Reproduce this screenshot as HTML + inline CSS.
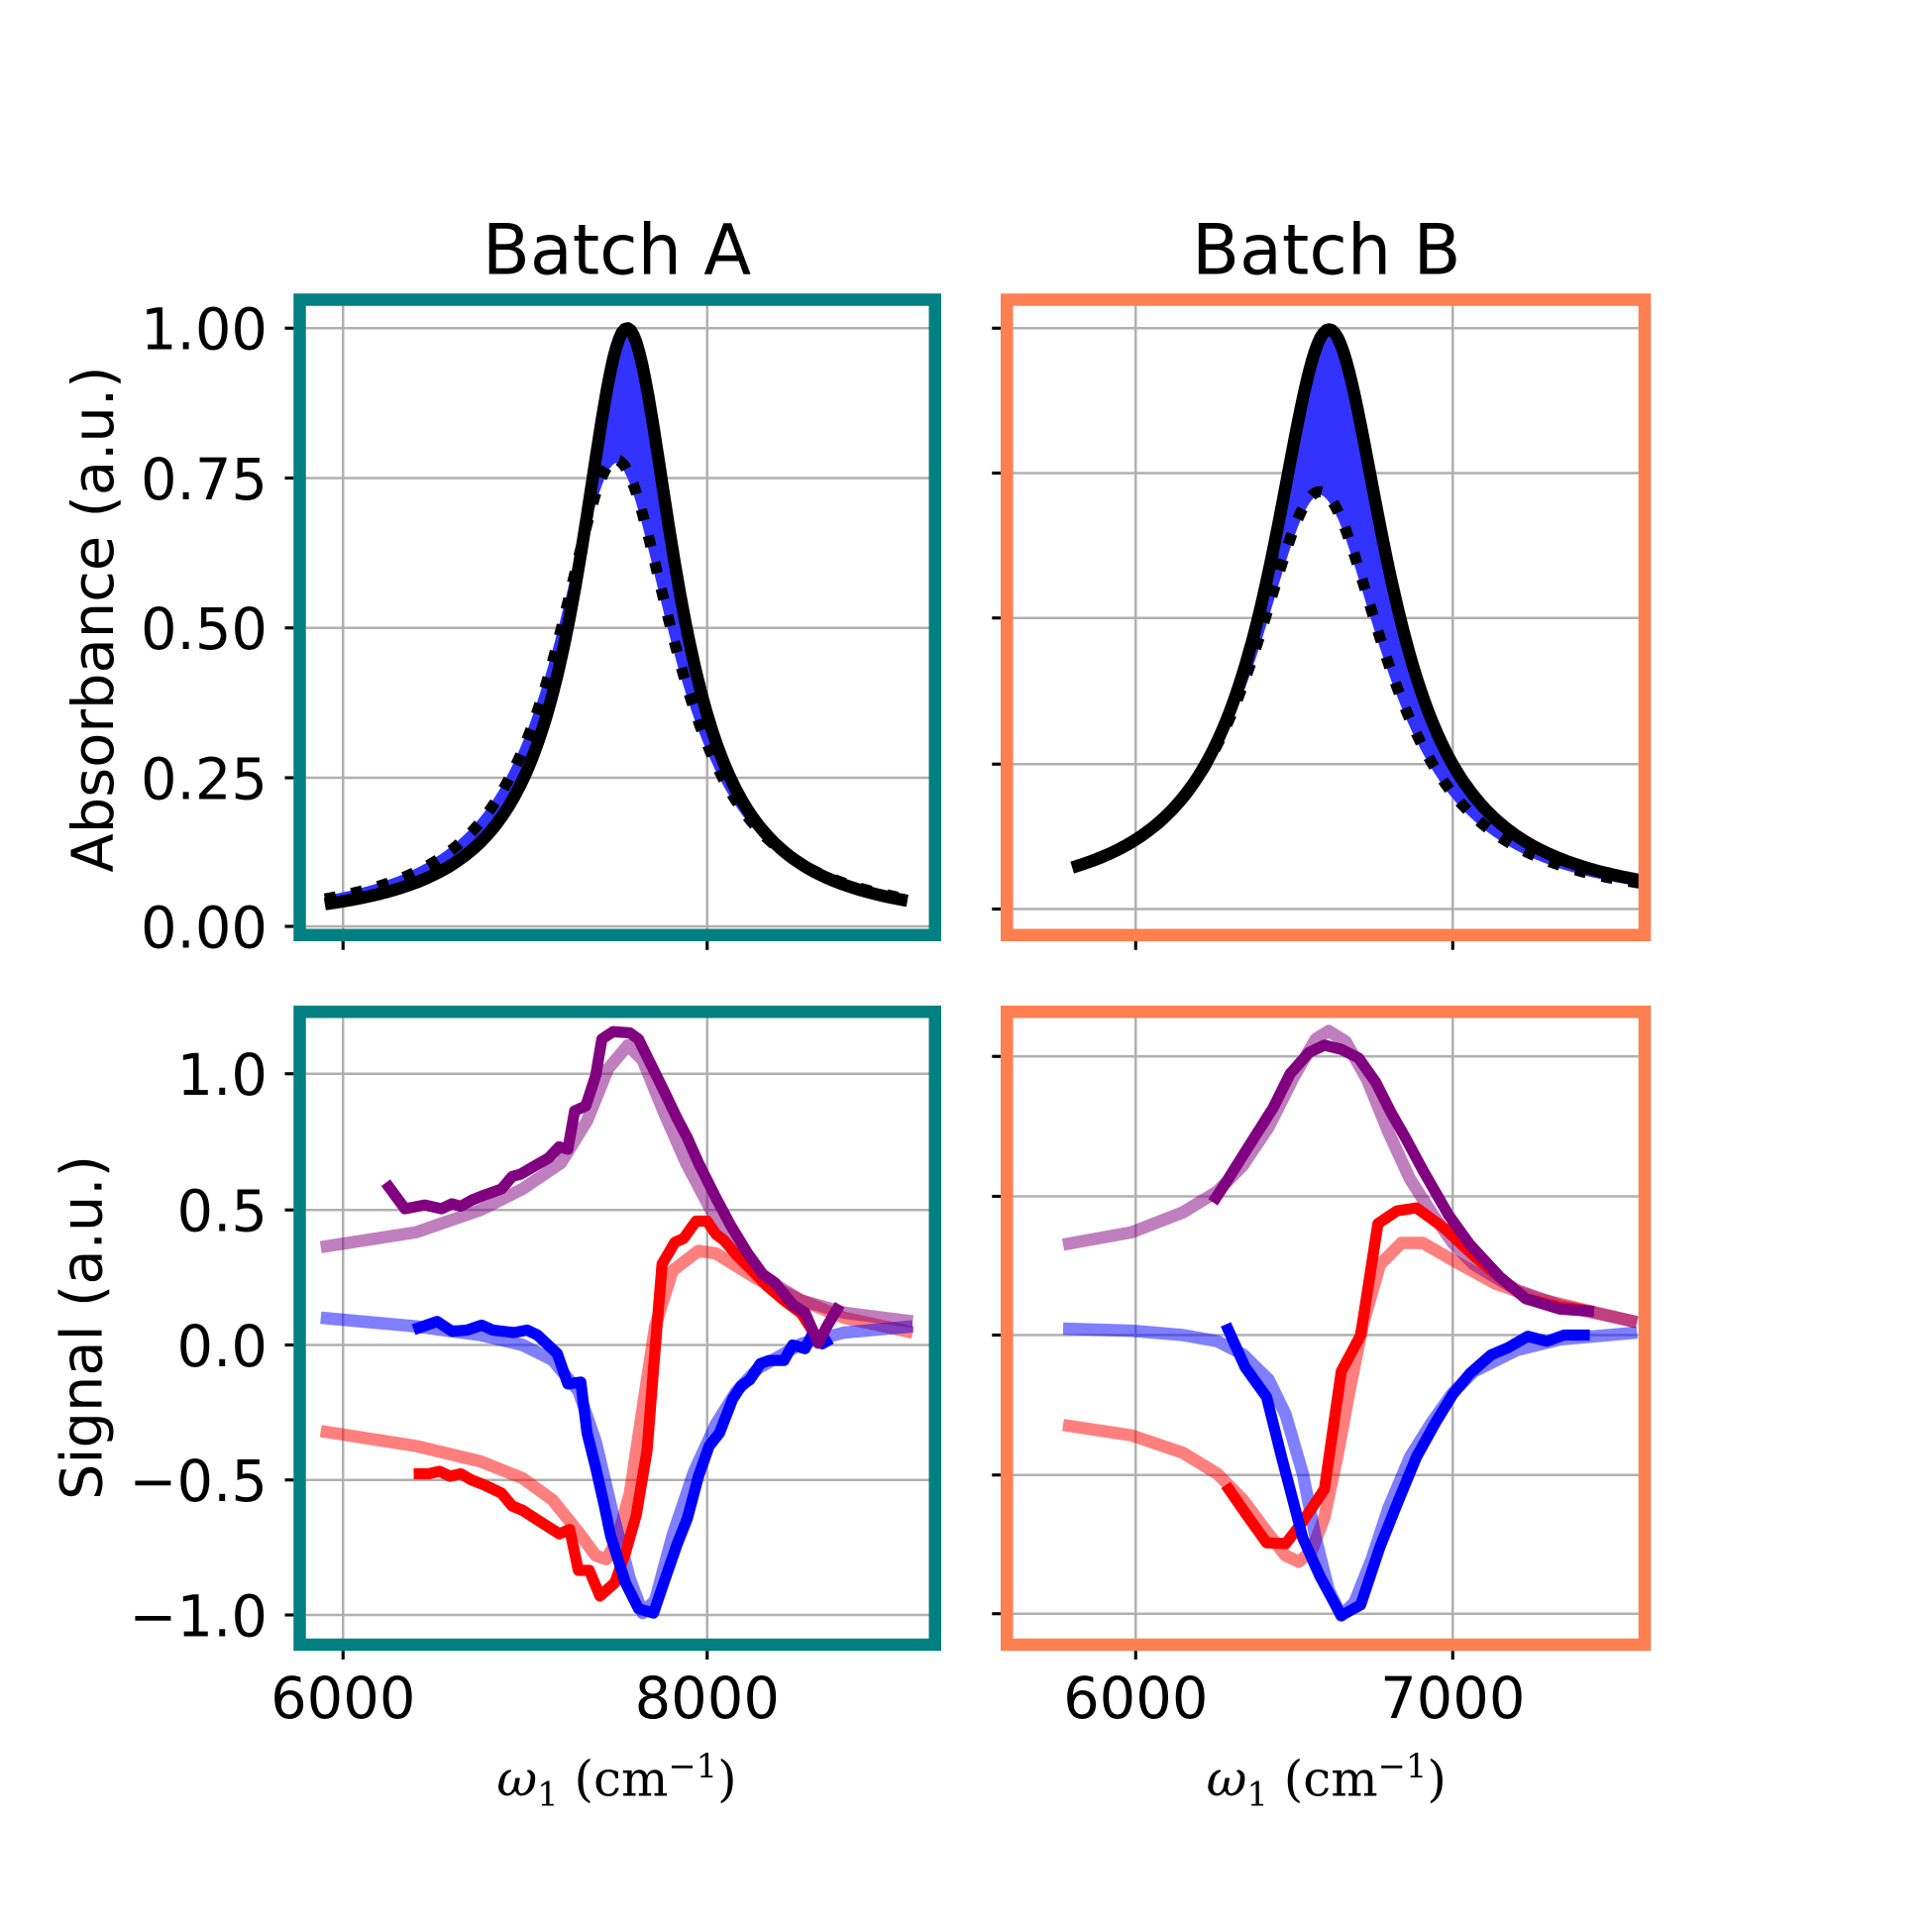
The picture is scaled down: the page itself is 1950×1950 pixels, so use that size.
<!DOCTYPE html>
<html><head><meta charset="utf-8"><style>
html,body{margin:0;padding:0;background:#fff;}
svg{display:block;}
text{font-family:"DejaVu Sans","Liberation Sans",sans-serif;fill:#000;}
text.m{font-family:"DejaVu Serif","Liberation Serif",serif;}
</style></head><body>
<svg id="s" width="1950" height="1950" viewBox="0 0 1560 1560" xmlns="http://www.w3.org/2000/svg">
<rect width="1560" height="1560" fill="#fff"/>
<g stroke="#b0b0b0" stroke-width="2" fill="none">
<line x1="277" y1="247" x2="277" y2="750"/><line x1="571" y1="247" x2="571" y2="750"/>
<line x1="247" y1="265" x2="750" y2="265"/><line x1="247" y1="386" x2="750" y2="386"/><line x1="247" y1="507" x2="750" y2="507"/><line x1="247" y1="628" x2="750" y2="628"/><line x1="247" y1="748" x2="750" y2="748"/>
<line x1="917" y1="247" x2="917" y2="750"/><line x1="1173" y1="247" x2="1173" y2="750"/>
<line x1="818" y1="265" x2="1323" y2="265"/><line x1="818" y1="382" x2="1323" y2="382"/><line x1="818" y1="499" x2="1323" y2="499"/><line x1="818" y1="617" x2="1323" y2="617"/><line x1="818" y1="734" x2="1323" y2="734"/>
<line x1="277" y1="822" x2="277" y2="1323"/><line x1="571" y1="822" x2="571" y2="1323"/>
<line x1="247" y1="867" x2="750" y2="867"/><line x1="247" y1="977" x2="750" y2="977"/><line x1="247" y1="1086" x2="750" y2="1086"/><line x1="247" y1="1195" x2="750" y2="1195"/><line x1="247" y1="1304" x2="750" y2="1304"/>
<line x1="917" y1="822" x2="917" y2="1323"/><line x1="1173" y1="822" x2="1173" y2="1323"/>
<line x1="818" y1="853" x2="1323" y2="853"/><line x1="818" y1="966" x2="1323" y2="966"/><line x1="818" y1="1078" x2="1323" y2="1078"/><line x1="818" y1="1191" x2="1323" y2="1191"/><line x1="818" y1="1303" x2="1323" y2="1303"/>
</g>
<g id="top"></g>
<g fill="none" stroke-linejoin="round" stroke-linecap="butt">
<polyline stroke="#ff0000" stroke-opacity="0.5" stroke-width="10" points="259,1155.5 336,1167.6 388,1180 422,1193.6 446,1211 467,1237 481,1256 489.6,1259 498,1244 508.6,1205.7 519,1136.5 529,1071 543,1026 564,1010 578,1012 612,1033 647,1050 681.5,1064 737,1076"/>
<polyline stroke="#0000ff" stroke-opacity="0.5" stroke-width="10" points="259,1064 336,1071 388,1078 422,1086 446,1098 467,1123 481,1164 495,1223 508.6,1275 519,1302.5 529,1292 543,1240 560.5,1188 578,1150 595,1123 612,1105 647,1085 681.5,1076 737,1071"/>
<polyline stroke="#800080" stroke-opacity="0.5" stroke-width="10" points="259,1007 336,995 388,977 422,960 453,939 474,905 491,863 507,844 519,856 536,898 554,939 574,977 612,1029 647,1050 682,1060 737,1067"/>
<polyline stroke="#ff0000" stroke-width="9" points="334,1190 346,1190 354.8,1188 363.4,1192 372,1190 380.7,1195 391,1199 405,1205.7 413.5,1216 422,1219.5 432.6,1226.4 443,1233 451.6,1238.5 460,1235 467,1268 475.8,1268 484.4,1288.7 496.5,1278 505,1254 513.8,1223 522.5,1171 527.7,1105 534.6,1020.7 545,1003 552,1000 562,986 571,986 578,996.5 584.7,1001.6 595,1013.7 605.5,1024 619,1038 633,1050 647,1060.4 657,1076 667.7,1084.6"/>
<polyline stroke="#0000ff" stroke-width="9" points="334,1073.6 353,1067 365,1075 377,1074 389,1070 398,1074 415,1076 425.6,1074 434,1078 450,1093 458.5,1117.5 469,1116 474,1157 481,1185 488,1216 493,1240 505,1278 515.6,1299 527.7,1302.5 536,1278 546.7,1247 555,1226 564,1192 572.6,1167.6 581,1157 591.6,1129.6 598.5,1119 605.5,1114 614,1101 621,1098.5 633,1098.5 640,1086 650,1089 655.6,1078 664,1085 671,1081"/>
<polyline stroke="#800080" stroke-width="9" points="311.5,955 327,976 343,973 356.5,976 365,972 372,974 381,969 391,965 405,960 413.5,950 420.5,948 432.5,941 443,935 451.5,926 458.5,928 464,897 473,893 481,868.5 486,839 495,833 508.6,834 515.5,839 536,880.6 546.7,903 555,918.7 564,939 578,967 590,989.5 603.7,1012 616,1029 626,1036 640,1053.5 650,1060 660.8,1084.6 667.7,1071 678,1053.5"/>
<polyline stroke="#ff0000" stroke-opacity="0.5" stroke-width="10" points="858.4,1150.6 913.7,1159 955,1173 983,1190 1003.6,1211 1024.4,1238.8 1038,1256 1048.6,1261 1059,1252.7 1069.4,1225 1079.7,1176.5 1090,1121 1100.5,1069.4 1114.3,1021 1131.6,1003.6 1148.9,1003.6 1173,1017.5 1207.7,1036.5 1242,1048.6 1276.8,1057 1321.8,1067.6"/>
<polyline stroke="#0000ff" stroke-opacity="0.5" stroke-width="10" points="858.4,1072.8 913.7,1074.5 955,1078 983,1083 1003.6,1093.6 1024.4,1114 1038,1142 1052,1190 1062.4,1242 1072.8,1283.7 1083,1304.5 1093.6,1294 1107.4,1259.5 1121,1218 1138.5,1176.5 1155.8,1148.9 1173,1124.7 1190,1107.4 1225,1090 1259.5,1081.5 1321.8,1076"/>
<polyline stroke="#800080" stroke-opacity="0.5" stroke-width="10" points="858.4,1005 913.7,995 955,979 983,962 1003.6,941 1024.4,910 1045,869 1062.4,839 1072.8,832.5 1086.6,841 1104,872 1121,914 1138.5,952 1155.8,979 1173,1003.6 1190,1021 1225,1041.7 1259.5,1054 1321.8,1067.6"/>
<polyline stroke="#ff0000" stroke-width="9" points="989.8,1199 1005.4,1221.5 1022.7,1245.7 1038.2,1246.4 1052,1228.4 1069.4,1202.5 1083,1107.4 1098.7,1078 1112.6,988 1128,977.7 1143.7,975.3 1166,991.5 1190,1014 1211,1031.3 1232,1048.6 1259.5,1055.5 1287,1059"/>
<polyline stroke="#0000ff" stroke-width="9" points="989.8,1069.4 1005.4,1104 1022.7,1128 1034.8,1176.5 1052,1242 1065.9,1273 1083,1304.5 1098.7,1295.8 1114.3,1249 1128,1214.6 1143.7,1176.5 1159,1148.9 1173,1126 1186.9,1109 1204,1094 1218,1088 1233.6,1079 1249,1083 1263,1078 1283.7,1078"/>
<polyline stroke="#800080" stroke-width="9" points="979.4,970.8 989.8,955 1007,927.6 1027.9,894.7 1041.7,867 1057,849.8 1069.4,843.9 1083,847.3 1097,854.3 1110.9,874 1123,898 1135,919 1148.9,944.9 1169.6,981 1186.9,1005 1211,1031 1231.9,1048.6 1259.5,1057 1287.2,1059"/>
</g>
<g fill="none" stroke-width="10">
<rect x="242" y="242" width="513" height="513" stroke="#008080"/>
<rect x="813" y="242" width="515" height="513" stroke="#ff7f50"/>
<rect x="242" y="817" width="513" height="511" stroke="#008080"/>
<rect x="813" y="817" width="515" height="511" stroke="#ff7f50"/>
</g>
<g stroke="#000" stroke-width="2.5">
<line x1="230" y1="265" x2="237" y2="265"/><line x1="230" y1="386" x2="237" y2="386"/><line x1="230" y1="507" x2="237" y2="507"/><line x1="230" y1="628" x2="237" y2="628"/><line x1="230" y1="748" x2="237" y2="748"/>
<line x1="801" y1="265" x2="808" y2="265"/><line x1="801" y1="382" x2="808" y2="382"/><line x1="801" y1="499" x2="808" y2="499"/><line x1="801" y1="617" x2="808" y2="617"/><line x1="801" y1="734" x2="808" y2="734"/>
<line x1="230" y1="867" x2="237" y2="867"/><line x1="230" y1="977" x2="237" y2="977"/><line x1="230" y1="1086" x2="237" y2="1086"/><line x1="230" y1="1195" x2="237" y2="1195"/><line x1="230" y1="1304" x2="237" y2="1304"/>
<line x1="801" y1="853" x2="808" y2="853"/><line x1="801" y1="966" x2="808" y2="966"/><line x1="801" y1="1078" x2="808" y2="1078"/><line x1="801" y1="1191" x2="808" y2="1191"/><line x1="801" y1="1303" x2="808" y2="1303"/>
<line x1="277" y1="760" x2="277" y2="767"/><line x1="571" y1="760" x2="571" y2="767"/>
<line x1="917" y1="760" x2="917" y2="767"/><line x1="1173" y1="760" x2="1173" y2="767"/>
<line x1="277" y1="1333" x2="277" y2="1340"/><line x1="571" y1="1333" x2="571" y2="1340"/>
<line x1="917" y1="1333" x2="917" y2="1340"/><line x1="1173" y1="1333" x2="1173" y2="1340"/>
</g>
<g font-size="46" text-anchor="end">
<text x="216" y="282">1.00</text><text x="216" y="403">0.75</text><text x="216" y="524">0.50</text><text x="216" y="645">0.25</text><text x="216" y="765">0.00</text>
<text x="216" y="884">1.0</text><text x="216" y="994">0.5</text><text x="216" y="1103">0.0</text><text x="216" y="1212">−0.5</text><text x="216" y="1321">−1.0</text>
</g>
<g font-size="46" text-anchor="middle">
<text x="277" y="1387">6000</text><text x="571" y="1387">8000</text>
<text x="917" y="1387">6000</text><text x="1173" y="1387">7000</text>
<text x="498" y="221" font-size="56">Batch A</text><text x="1071" y="221" font-size="56">Batch B</text>
<text transform="translate(91,500) rotate(-90)">Absorbance (a.u.)</text>
<text transform="translate(82,1072) rotate(-90)">Signal (a.u.)</text>
</g>
<g font-size="40" text-anchor="middle">
<text class="m" x="498" y="1450"><tspan font-style="italic">ω</tspan><tspan font-size="27" dy="8">1</tspan><tspan dy="-8"> (cm</tspan><tspan font-size="27" dy="-15">−1</tspan><tspan dy="15">)</tspan></text>
<text class="m" x="1071" y="1450"><tspan font-style="italic">ω</tspan><tspan font-size="27" dy="8">1</tspan><tspan dy="-8"> (cm</tspan><tspan font-size="27" dy="-15">−1</tspan><tspan dy="15">)</tspan></text>
</g>
</svg>
<script>
(function(){
var g=document.getElementById('top');var NS='http://www.w3.org/2000/svg';
function lor(w,c,a,gm){var d=(w-c)/gm;return a/(1+d*d);}
function panel(X,Y,w0,w1,bc,bg,dc,da,dg){
 var sol=[],dot=[],n=200;
 for(var i=0;i<=n;i++){var w=w0+(w1-w0)*i/n;
  sol.push([X(w),Y(lor(w,bc,1,bg))]);dot.push([X(w),Y(lor(w,dc,da,dg))]);}
 var s=function(a){return a.map(function(p){return p[0].toFixed(1)+','+p[1].toFixed(1)}).join(' ');};
 var poly=document.createElementNS(NS,'polygon');
 poly.setAttribute('points',s(sol)+' '+s(dot.slice().reverse()));
 poly.setAttribute('fill','#3333ff');g.appendChild(poly);
 var bl=document.createElementNS(NS,'polyline');bl.setAttribute('points',s(dot));
 bl.setAttribute('fill','none');bl.setAttribute('stroke','#3333ff');bl.setAttribute('stroke-width','5');g.appendChild(bl);
 var p1=document.createElementNS(NS,'polyline');p1.setAttribute('points',s(sol));
 p1.setAttribute('fill','none');p1.setAttribute('stroke','#000');p1.setAttribute('stroke-width','10');p1.setAttribute('stroke-linejoin','round');g.appendChild(p1);
 var p2=document.createElementNS(NS,'polyline');p2.setAttribute('points',s(dot));
 p2.setAttribute('fill','none');p2.setAttribute('stroke','#000');p2.setAttribute('stroke-width','9');p2.setAttribute('stroke-dasharray','9 13');g.appendChild(p2);
}
panel(function(w){return 277+(w-6000)*0.147},function(v){return 748-483*v},5900,9100,7560,326,7500,0.78,400);
panel(function(w){return 917+(w-6000)*0.256},function(v){return 734-468*v},5800,7600,6610,225,6580,0.72,260);
})();
</script>
</body></html>
